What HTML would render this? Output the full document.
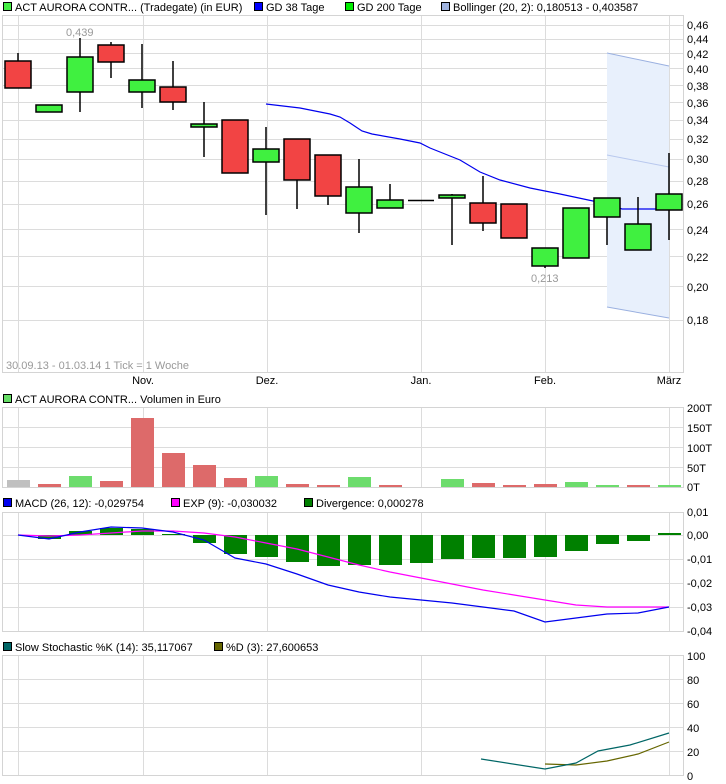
<!DOCTYPE html>
<html><head><meta charset="utf-8"><style>
html,body{margin:0;padding:0;background:#fff;}
svg{display:block;font-family:"Liberation Sans",sans-serif;font-size:11px;}
</style></head><body>
<svg width="726" height="784" viewBox="0 0 726 784" xmlns="http://www.w3.org/2000/svg">
<rect width="726" height="784" fill="#fff"/>
<g fill="#000">
<rect x="3.5" y="2.5" width="8" height="8" fill="#44ee44" stroke="#000"/>
<text x="15" y="11">ACT AURORA CONTR... (Tradegate) (in EUR)</text>
<rect x="254.5" y="2.5" width="8" height="8" fill="#0000ff" stroke="#000"/>
<text x="266" y="11">GD 38 Tage</text>
<rect x="345.5" y="2.5" width="8" height="8" fill="#00ee00" stroke="#000"/>
<text x="357" y="11">GD 200 Tage</text>
<rect x="441.5" y="2.5" width="8" height="8" fill="#a0b4e0" stroke="#000"/>
<text x="453" y="11">Bollinger (20, 2): 0,180513 - 0,403587</text>
</g>
<g stroke="#dcdcdc" stroke-width="1">
<line x1="2" y1="25.5" x2="683" y2="25.5"/><line x1="2" y1="39.5" x2="683" y2="39.5"/>
<line x1="2" y1="53.5" x2="683" y2="53.5"/><line x1="2" y1="68.5" x2="683" y2="68.5"/>
<line x1="2" y1="85.5" x2="683" y2="85.5"/><line x1="2" y1="102.5" x2="683" y2="102.5"/>
<line x1="2" y1="120.5" x2="683" y2="120.5"/><line x1="2" y1="139.5" x2="683" y2="139.5"/>
<line x1="2" y1="159.5" x2="683" y2="159.5"/><line x1="2" y1="181.5" x2="683" y2="181.5"/>
<line x1="2" y1="204.5" x2="683" y2="204.5"/><line x1="2" y1="229.5" x2="683" y2="229.5"/>
<line x1="2" y1="256.5" x2="683" y2="256.5"/><line x1="2" y1="286.5" x2="683" y2="286.5"/>
<line x1="2" y1="320.5" x2="683" y2="320.5"/>
<line x1="18.5" y1="15" x2="18.5" y2="372"/><line x1="143.5" y1="15" x2="143.5" y2="372"/>
<line x1="267.5" y1="15" x2="267.5" y2="372"/><line x1="421.5" y1="15" x2="421.5" y2="372"/>
<line x1="545.5" y1="15" x2="545.5" y2="372"/><line x1="669.5" y1="15" x2="669.5" y2="372"/>
</g>
<polygon points="607,53 669,66 669,318 607,307" fill="#e8f0fc"/>
<polyline points="607,53 669,66" fill="none" stroke="#9ab0e0"/>
<polyline points="607,155 669,167" fill="none" stroke="#b8c8ee"/>
<polyline points="607,307 669,318" fill="none" stroke="#9ab0e0"/>
<rect x="2.5" y="15.5" width="681" height="357" fill="none" stroke="#d4d4d4"/>
<polyline points="266,104 300,108 330,114 340,117 350,123 362,131 372,134 400,139 420,143 430,148 460,160 480,172 500,180 530,188 560,194 593,201 610,205 622,209 656,209" fill="none" stroke="#0000ee" stroke-width="1.2"/>
<g stroke="#000" stroke-width="1.5">
<line x1="18" y1="53" x2="18" y2="88"/><rect x="5" y="61" width="26" height="27" fill="#f24444"/>
<rect x="36" y="105" width="26" height="7" fill="#40f040"/>
<line x1="80" y1="38" x2="80" y2="112"/><rect x="67" y="57" width="26" height="35" fill="#40f040"/>
<line x1="111" y1="42" x2="111" y2="78"/><rect x="98" y="45" width="26" height="17" fill="#f24444"/>
<line x1="142" y1="44" x2="142" y2="108"/><rect x="129" y="80" width="26" height="12" fill="#40f040"/>
<line x1="173" y1="61" x2="173" y2="110"/><rect x="160" y="87" width="26" height="15" fill="#f24444"/>
<line x1="204" y1="102" x2="204" y2="157"/><rect x="191" y="124" width="26" height="3" fill="#40f040"/>
<rect x="222" y="120" width="26" height="53" fill="#f24444"/>
<line x1="266" y1="127" x2="266" y2="215"/><rect x="253" y="149" width="26" height="13" fill="#40f040"/>
<line x1="297" y1="139" x2="297" y2="209"/><rect x="284" y="139" width="26" height="41" fill="#f24444"/>
<line x1="328" y1="155" x2="328" y2="205"/><rect x="315" y="155" width="26" height="41" fill="#f24444"/>
<line x1="359" y1="159" x2="359" y2="233"/><rect x="346" y="187" width="26" height="26" fill="#40f040"/>
<line x1="390" y1="184" x2="390" y2="208"/><rect x="377" y="200" width="26" height="8" fill="#40f040"/>
<line x1="408" y1="200.5" x2="434" y2="200.5"/>
<line x1="452" y1="194" x2="452" y2="245"/><rect x="439" y="195" width="26" height="3" fill="#40f040"/>
<line x1="483" y1="176" x2="483" y2="231"/><rect x="470" y="203" width="26" height="20" fill="#f24444"/>
<rect x="501" y="204" width="26" height="34" fill="#f24444"/>
<line x1="545" y1="248" x2="545" y2="268"/><rect x="532" y="248" width="26" height="18" fill="#40f040"/>
<rect x="563" y="208" width="26" height="50" fill="#40f040"/>
<line x1="607" y1="198" x2="607" y2="245"/><rect x="594" y="198" width="26" height="19" fill="#40f040"/>
<line x1="638" y1="197" x2="638" y2="250"/><rect x="625" y="224" width="26" height="26" fill="#40f040"/>
<line x1="669" y1="153" x2="669" y2="240"/><rect x="656" y="194" width="26" height="16" fill="#40f040"/>
</g>
<g fill="#999">
<text x="66" y="36">0,439</text>
<text x="531" y="282">0,213</text>
<text x="6" y="369">30.09.13 - 01.03.14   1 Tick = 1 Woche</text>
</g>
<g fill="#000">
<text x="687" y="29">0,46</text><text x="687" y="43">0,44</text><text x="687" y="58">0,42</text>
<text x="687" y="73">0,40</text><text x="687" y="90">0,38</text><text x="687" y="107">0,36</text>
<text x="687" y="124">0,34</text><text x="687" y="143">0,32</text><text x="687" y="163">0,30</text>
<text x="687" y="185">0,28</text><text x="687" y="208">0,26</text><text x="687" y="234">0,24</text>
<text x="687" y="261">0,22</text><text x="687" y="291">0,20</text><text x="687" y="324">0,18</text>
<text x="143" y="384" text-anchor="middle">Nov.</text><text x="267" y="384" text-anchor="middle">Dez.</text>
<text x="421" y="384" text-anchor="middle">Jan.</text><text x="545" y="384" text-anchor="middle">Feb.</text>
<text x="669" y="384" text-anchor="middle">März</text>
</g>
<rect x="3.5" y="394.5" width="8" height="8" fill="#66dd66" stroke="#000"/>
<text x="15" y="403">ACT AURORA CONTR... Volumen in Euro</text>
<g stroke="#dcdcdc">
<line x1="2" y1="427.5" x2="683" y2="427.5"/><line x1="2" y1="447.5" x2="683" y2="447.5"/><line x1="2" y1="467.5" x2="683" y2="467.5"/>
<line x1="18.5" y1="407" x2="18.5" y2="487"/><line x1="143.5" y1="407" x2="143.5" y2="487"/>
<line x1="267.5" y1="407" x2="267.5" y2="487"/><line x1="421.5" y1="407" x2="421.5" y2="487"/>
<line x1="545.5" y1="407" x2="545.5" y2="487"/><line x1="669.5" y1="407" x2="669.5" y2="487"/>
</g>
<rect x="2.5" y="407.5" width="681" height="80" fill="none" stroke="#d4d4d4"/>
<g>
<rect x="7" y="480" width="23" height="7" fill="#c0c0c0"/>
<rect x="38" y="484" width="23" height="3" fill="#dd6a6a"/>
<rect x="69" y="476" width="23" height="11" fill="#6ddc6d"/>
<rect x="100" y="481" width="23" height="6" fill="#dd6a6a"/>
<rect x="131" y="418" width="23" height="69" fill="#dd6a6a"/>
<rect x="162" y="453" width="23" height="34" fill="#dd6a6a"/>
<rect x="193" y="465" width="23" height="22" fill="#dd6a6a"/>
<rect x="224" y="478" width="23" height="9" fill="#dd6a6a"/>
<rect x="255" y="476" width="23" height="11" fill="#6ddc6d"/>
<rect x="286" y="484" width="23" height="3" fill="#dd6a6a"/>
<rect x="317" y="485" width="23" height="2" fill="#dd6a6a"/>
<rect x="348" y="477" width="23" height="10" fill="#6ddc6d"/>
<rect x="379" y="485" width="23" height="2" fill="#dd6a6a"/>
<rect x="441" y="479" width="23" height="8" fill="#6ddc6d"/>
<rect x="472" y="483" width="23" height="4" fill="#dd6a6a"/>
<rect x="503" y="485" width="23" height="2" fill="#dd6a6a"/>
<rect x="534" y="484" width="23" height="3" fill="#dd6a6a"/>
<rect x="565" y="482" width="23" height="5" fill="#6ddc6d"/>
<rect x="596" y="485" width="23" height="2" fill="#6ddc6d"/>
<rect x="627" y="485" width="23" height="2" fill="#dd6a6a"/>
<rect x="658" y="485" width="23" height="2" fill="#6ddc6d"/>
</g>
<g fill="#000">
<text x="687" y="412">200T</text><text x="687" y="432">150T</text><text x="687" y="452">100T</text>
<text x="687" y="472">50T</text><text x="687" y="491">0T</text>
</g>
<rect x="3.5" y="498.5" width="8" height="8" fill="#0000ee" stroke="#000"/>
<text x="15" y="507">MACD (26, 12): -0,029754</text>
<rect x="171.5" y="498.5" width="8" height="8" fill="#ff00ff" stroke="#000"/>
<text x="183" y="507">EXP (9): -0,030032</text>
<rect x="304.5" y="498.5" width="8" height="8" fill="#008000" stroke="#000"/>
<text x="316" y="507">Divergence: 0,000278</text>
<g stroke="#dcdcdc">
<line x1="2" y1="535.5" x2="683" y2="535.5"/><line x1="2" y1="559.5" x2="683" y2="559.5"/>
<line x1="2" y1="583.5" x2="683" y2="583.5"/><line x1="2" y1="607.5" x2="683" y2="607.5"/>
<line x1="18.5" y1="512" x2="18.5" y2="631"/><line x1="143.5" y1="512" x2="143.5" y2="631"/>
<line x1="267.5" y1="512" x2="267.5" y2="631"/><line x1="421.5" y1="512" x2="421.5" y2="631"/>
<line x1="545.5" y1="512" x2="545.5" y2="631"/><line x1="669.5" y1="512" x2="669.5" y2="631"/>
</g>
<rect x="2.5" y="512.5" width="681" height="119" fill="none" stroke="#d4d4d4"/>
<g fill="#008000">
<rect x="38" y="535" width="23" height="4"/>
<rect x="69" y="531" width="23" height="4"/>
<rect x="100" y="528" width="23" height="7"/>
<rect x="131" y="529" width="23" height="6"/>
<rect x="162" y="534" width="23" height="1"/>
<rect x="193" y="535" width="23" height="8"/>
<rect x="224" y="535" width="23" height="19"/>
<rect x="255" y="535" width="23" height="22"/>
<rect x="286" y="535" width="23" height="27"/>
<rect x="317" y="535" width="23" height="31"/>
<rect x="348" y="535" width="23" height="30"/>
<rect x="379" y="535" width="23" height="30"/>
<rect x="410" y="535" width="23" height="28"/>
<rect x="441" y="535" width="23" height="24"/>
<rect x="472" y="535" width="23" height="23"/>
<rect x="503" y="535" width="23" height="23"/>
<rect x="534" y="535" width="23" height="22"/>
<rect x="565" y="535" width="23" height="16"/>
<rect x="596" y="535" width="23" height="9"/>
<rect x="627" y="535" width="23" height="6"/>
<rect x="658" y="533" width="23" height="2"/>
</g>
<polyline points="18,535 49,536 80,535 111,533 142,531 173,531 204,533 235,537 266,543 297,549 328,557 359,565 390,572 421,578 452,584 483,590 514,595 545,600 576,605 607,607 638,607 669,607" fill="none" stroke="#ff00ff" stroke-width="1.2"/>
<polyline points="18,535 49,539 80,532 111,527 142,528 173,532 204,540 235,558 266,564 297,574 328,585 359,592 390,597 421,600 452,603 483,607 514,611 545,622 576,618 607,614 638,613 669,607" fill="none" stroke="#0000ee" stroke-width="1.2"/>
<g fill="#000">
<text x="687" y="516">0,01</text><text x="687" y="539">0,00</text><text x="687" y="563">-0,01</text>
<text x="687" y="587">-0,02</text><text x="687" y="611">-0,03</text><text x="687" y="635">-0,04</text>
</g>
<rect x="3.5" y="642.5" width="8" height="8" fill="#006666" stroke="#000"/>
<text x="15" y="651">Slow Stochastic %K (14): 35,117067</text>
<rect x="214.5" y="642.5" width="8" height="8" fill="#666600" stroke="#000"/>
<text x="226" y="651">%D (3): 27,600653</text>
<g stroke="#dcdcdc">
<line x1="2" y1="679.5" x2="683" y2="679.5"/><line x1="2" y1="703.5" x2="683" y2="703.5"/>
<line x1="2" y1="727.5" x2="683" y2="727.5"/><line x1="2" y1="751.5" x2="683" y2="751.5"/>
<line x1="18.5" y1="655" x2="18.5" y2="775"/><line x1="143.5" y1="655" x2="143.5" y2="775"/>
<line x1="267.5" y1="655" x2="267.5" y2="775"/><line x1="421.5" y1="655" x2="421.5" y2="775"/>
<line x1="545.5" y1="655" x2="545.5" y2="775"/><line x1="669.5" y1="655" x2="669.5" y2="775"/>
</g>
<rect x="2.5" y="655.5" width="681" height="120" fill="none" stroke="#d4d4d4"/>
<polyline points="545,764 576,765 607,761 638,754 669,742" fill="none" stroke="#666600" stroke-width="1.2"/>
<polyline points="481,759 545,769 576,763 598,751 630,745 669,733" fill="none" stroke="#006666" stroke-width="1.2"/>
<g fill="#000">
<text x="687" y="660">100</text><text x="687" y="684">80</text><text x="687" y="708">60</text>
<text x="687" y="732">40</text><text x="687" y="756">20</text><text x="687" y="780">0</text>
</g>
</svg>
</body></html>
